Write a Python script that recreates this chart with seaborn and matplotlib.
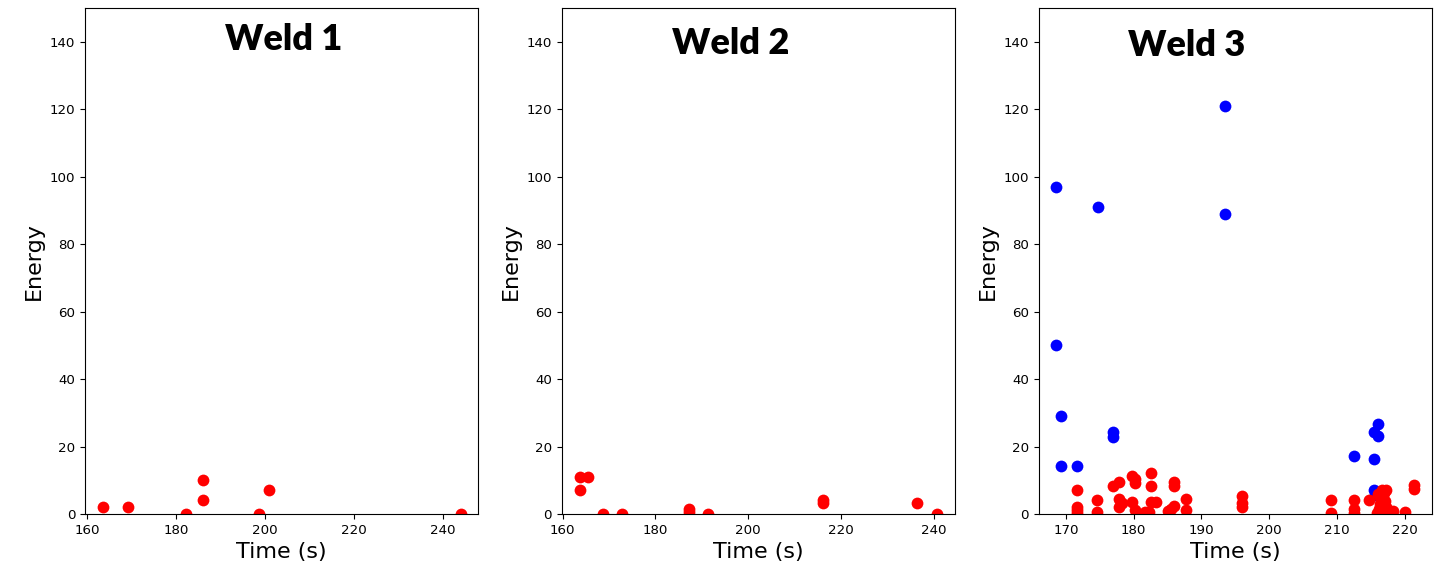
import numpy as np
import pandas as pd
import matplotlib.pyplot as plt
from matplotlib.ticker import MultipleLocator
import seaborn as sns

# weld 1 - red events only
w1_time = [163.5, 169.2, 182.3, 186.1, 186.1, 198.6, 200.9, 244.0]
w1_energy = [2.0, 2.0, 0.0, 10.0, 4.3, 0.0, 7.1, 0.0]

# weld 2
w2_time = [163.7, 165.5, 163.8, 168.7, 172.7, 187.3, 187.3, 191.4, 216.0, 216.0, 236.4, 240.7]
w2_energy = [11.0, 11.0, 7.1, 0.0, 0.0, 1.5, 0.6, 0.0, 4.3, 3.3, 3.3, 0.0]

# weld 3 - low energy (red)
w3_red_time = [171.6, 171.6, 171.6, 171.6, 174.6, 174.6, 176.9, 177.8, 177.8, 177.8,
               178.3, 179.7, 179.7, 180.2, 180.2, 180.2, 181.6, 182.3, 182.6, 182.6,
               182.6, 183.3, 185.0, 185.5, 186.0, 186.0, 186.0, 187.7, 187.7, 196.0,
               196.0, 196.0, 209.2, 209.2, 212.5, 212.5, 212.5, 214.8, 216.0, 216.3,
               216.6, 216.9, 217.1, 216.4, 216.8, 217.3, 216.2, 216.7, 217.5, 215.9,
               217.8, 216.5, 217.2, 218.3, 220.0, 221.4, 221.4]
w3_red_energy = [7.2, 2.2, 1.2, 0.3, 4.3, 0.5, 8.3, 9.4, 4.5, 2.2,
                 3.2, 11.3, 3.5, 10.3, 9.3, 1.2, 0.6, 0.6, 12.3, 8.4,
                 3.6, 3.6, 1.0, 1.6, 9.5, 8.4, 2.5, 4.4, 1.3, 5.4,
                 3.2, 2.2, 4.3, 0.2, 4.3, 1.5, 0.4, 4.3, 6.0, 5.0,
                 7.0, 6.2, 4.0, 3.0, 2.5, 2.0, 1.5, 0.8, 0.5, 0.3,
                 1.0, 4.5, 7.0, 0.8, 0.6, 8.6, 7.3]

# weld 3 - high energy (blue)
w3_blue_time = [168.6, 168.6, 169.2, 169.2, 171.6, 174.7, 176.9, 176.9, 193.5, 193.5,
                212.5, 215.5, 215.5, 215.5, 215.6, 216.0, 216.0]
w3_blue_energy = [97.0, 50.1, 29.2, 14.3, 14.3, 90.9, 24.4, 22.9, 120.8, 89.0,
                  17.3, 16.2, 24.4, 7.0, 5.5, 26.6, 23.1]

titles = ['Weld 1', 'Weld 2', 'Weld 3']
title_pos = [(0.505, 0.937), (0.428, 0.929), (0.376, 0.925)]
x_step = [20, 20, 10]

fig, axes = plt.subplots(1, 3, figsize=(14.34, 5.74), dpi=100)
plt.subplots_adjust(left=0.0593, right=0.9986, bottom=0.1045, top=0.9861, wspace=0.212)

panels = [
    [(w1_time, w1_energy, 'red')],
    [(w2_time, w2_energy, 'red')],
    [(w3_blue_time, w3_blue_energy, 'blue'), (w3_red_time, w3_red_energy, 'red')],
]

for ax, series, title, pos, step in zip(axes, panels, titles, title_pos, x_step):
    for t, e, c in series:
        df = pd.DataFrame({'Time': t, 'Energy': e})
        sns.scatterplot(data=df, x='Time', y='Energy', color=c, s=72,
                        linewidth=0, ax=ax)
    ax.set_ylim(0, 150)
    ax.xaxis.set_major_locator(MultipleLocator(step))
    ax.set_xlabel('Time (s)', fontsize=16)
    ax.set_ylabel('Energy', fontsize=16)
    ax.tick_params(labelsize=9.6)
    ax.text(pos[0], pos[1], title, transform=ax.transAxes, ha='center', va='center',
            fontsize=26, fontweight='heavy', family='Lato')

plt.savefig('out.png', dpi=100)
